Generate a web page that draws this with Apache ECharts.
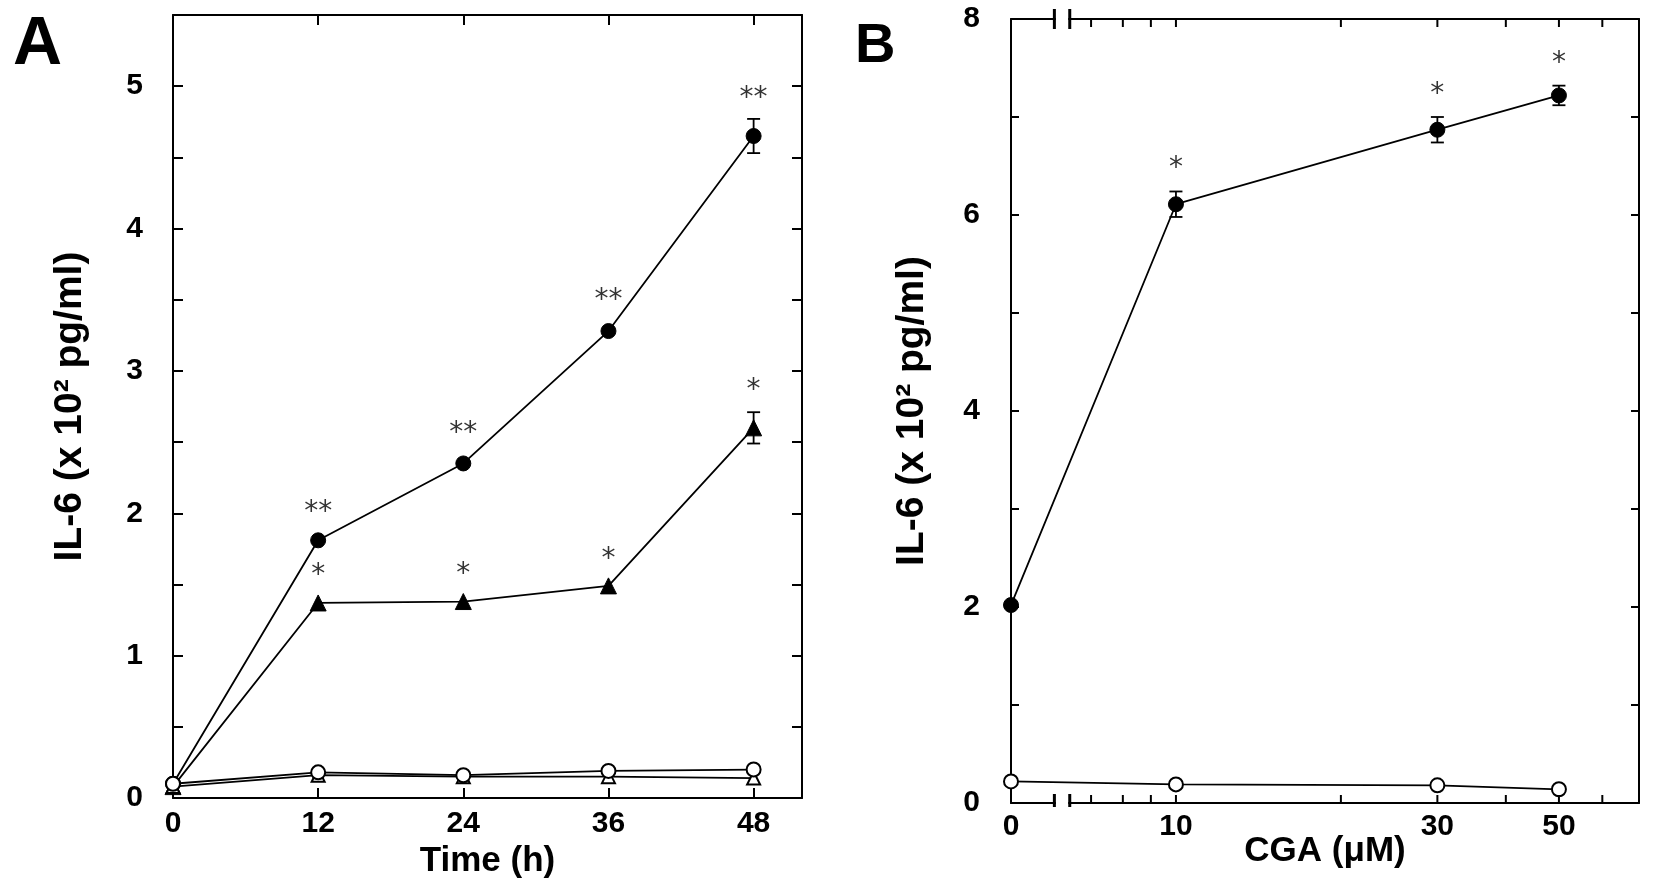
<!DOCTYPE html>
<html><head><meta charset="utf-8">
<script src="https://cdn.jsdelivr.net/npm/echarts@6/dist/echarts.min.js"></script>
<style>html,body{margin:0;padding:0;background:#fff}#c{width:1654px;height:890px}</style>
</head><body><div id="c"></div>
<script>
// ---------- Panel A data ----------
const timeH = [0, 12, 24, 36, 48];
const aFilledCircle    = [0.10, 1.81, 2.35, 3.28, 4.65];
const aFilledCircleErr = [0, 0, 0, 0, 0.12];
const aFilledTriangle    = [0.08, 1.37, 1.38, 1.49, 2.60];
const aFilledTriangleErr = [0, 0, 0, 0, 0.11];
const aOpenCircle   = [0.10, 0.18, 0.16, 0.19, 0.20];
const aOpenTriangle = [0.08, 0.16, 0.15, 0.15, 0.14];
const aStarTimes = [12, 24, 36, 48];
const aStarCircleY = [2.05, 2.61, 3.54, 4.96];
const aStarCircleText = ['**', '**', '**', '**'];
const aStarTriangleY = [1.61, 1.62, 1.72, 2.91];
const aStarTriangleText = ['*', '*', '*', '*'];
const aXLabels = [0, 12, 24, 36, 48];

// ---------- Panel B data ----------
const cgaUM = [0, 10, 30, 50];
const bFilledCircle    = [2.02, 6.11, 6.87, 7.22];
const bFilledCircleErr = [0, 0.13, 0.13, 0.10];
const bOpenCircle = [0.22, 0.19, 0.18, 0.14];
const bStarConc = [10, 30, 50];
const bStarY = [6.54, 7.30, 7.62];
const bStarText = ['*', '*', '*'];
const bTickValues = [7, 8, 9, 10, 20, 30, 40, 50, 60];
const bLabelConc = [0, 10, 30, 50];
const B_ZERO_AT = 5;          // the 0 µM dose sits at 5 on the broken log axis
const bBreakAt = [6.0, 6.4];  // axis break marks

const FONT = '"Liberation Sans", Arial, Helvetica, sans-serif';
const bx = c => (c === 0 ? B_ZERO_AT : c);

const chart = echarts.init(document.getElementById('c'), null, {renderer: 'canvas'});

function lineSeries(xi, yi, xs, ys, symbol, size, filled) {
  return {
    type: 'line', xAxisIndex: xi, yAxisIndex: yi,
    data: xs.map((x, i) => [x, ys[i]]),
    symbol: symbol, symbolSize: size, showSymbol: true, clip: false,
    lineStyle: {color: '#000', width: 1.8},
    itemStyle: filled ? {color: '#000', borderColor: '#000', borderWidth: 1}
                      : {color: '#fff', borderColor: '#000', borderWidth: 2},
    emphasis: {disabled: true}, silent: true, animation: false, z: filled ? 3 : 4
  };
}
function errSeries(xi, yi, xs, ys, es) {
  return {
    type: 'custom', xAxisIndex: xi, yAxisIndex: yi, silent: true, animation: false, z: 2,
    data: xs.map((x, i) => [x, ys[i], es[i]]),
    renderItem: function (params, api) {
      const x = api.value(0), y = api.value(1), e = api.value(2);
      if (!e) return null;
      const t = api.coord([x, y + e]), b = api.coord([x, y - e]);
      const w = 6.5, st = {stroke: '#000', lineWidth: 1.8};
      return {type: 'group', children: [
        {type: 'line', shape: {x1: t[0], y1: t[1], x2: b[0], y2: b[1]}, style: st},
        {type: 'line', shape: {x1: t[0] - w, y1: t[1], x2: t[0] + w, y2: t[1]}, style: st},
        {type: 'line', shape: {x1: b[0] - w, y1: b[1], x2: b[0] + w, y2: b[1]}, style: st}
      ]};
    }
  };
}
function starSeries(xi, yi, xs, ys, texts) {
  return {
    type: 'scatter', xAxisIndex: xi, yAxisIndex: yi, silent: true, animation: false,
    symbolSize: 1, itemStyle: {color: 'rgba(0,0,0,0)'},
    data: xs.map((x, i) => ({name: texts[i], value: [x, ys[i]]})),
    label: {show: true, position: 'inside', formatter: '{b}', offset: [0, 7],
            fontSize: 28, fontFamily: '"DejaVu Sans", sans-serif', color: '#000'},
    z: 5
  };
}

const axisLine = {show: true, onZero: false, lineStyle: {color: '#000', width: 2}};
const labelStyle = {color: '#000', fontSize: 30, fontWeight: 'bold', fontFamily: FONT};

const option = {
  backgroundColor: '#fff',
  animation: false,
  title: [
    {text: 'A', left: 13, top: 11, padding: 0, textStyle: {fontSize: 68, fontWeight: 'bold', fontFamily: FONT, color: '#000'}},
    {text: 'B', left: 855, top: 19, padding: 0, textStyle: {fontSize: 56, fontWeight: 'bold', fontFamily: FONT, color: '#000'}}
  ],
  grid: [
    {left: 173, top: 15, width: 629, height: 783},
    {left: 1011, top: 19, width: 628, height: 784}
  ],
  xAxis: [
    {gridIndex: 0, type: 'value', position: 'bottom', min: 0, max: 52, interval: 12,
     axisLine: axisLine, splitLine: {show: false},
     axisTick: {show: true, inside: true, length: 10, lineStyle: {color: '#000', width: 2}},
     axisLabel: Object.assign({margin: 11, formatter: v => aXLabels.includes(v) ? String(v) : ''}, labelStyle),
     name: 'Time (h)', nameLocation: 'middle', nameGap: 44,
     nameTextStyle: {fontSize: 35, fontWeight: 'bold', fontFamily: FONT, color: '#000'}},
    {gridIndex: 0, type: 'value', position: 'top', min: 0, max: 52, interval: 12,
     axisLine: axisLine, splitLine: {show: false},
     axisTick: {show: true, inside: true, length: 10, lineStyle: {color: '#000', width: 2}},
     axisLabel: {show: false}},
    {gridIndex: 1, type: 'log', logBase: 10, position: 'bottom', min: B_ZERO_AT, max: 70,
     axisLine: axisLine, splitLine: {show: false}, minorSplitLine: {show: false},
     axisTick: {show: false}, axisLabel: {show: false},
     name: 'CGA (μM)', nameLocation: 'middle', nameGap: 31,
     nameTextStyle: {fontSize: 35, fontWeight: 'bold', fontFamily: FONT, color: '#000'}},
    {gridIndex: 1, type: 'log', logBase: 10, position: 'top', min: B_ZERO_AT, max: 70,
     axisLine: axisLine, splitLine: {show: false}, minorSplitLine: {show: false},
     axisTick: {show: false}, axisLabel: {show: false}}
  ],
  yAxis: [
    {gridIndex: 0, type: 'value', position: 'left', min: 0, max: 5.5, interval: 0.5,
     axisLine: axisLine, splitLine: {show: false},
     axisTick: {show: true, inside: true, length: 10, lineStyle: {color: '#000', width: 2}},
     axisLabel: Object.assign({margin: 30, formatter: v => Number.isInteger(v) ? String(v) : ''}, labelStyle),
     name: 'IL-6 (x 10² pg/ml)', nameLocation: 'middle', nameGap: 83,
     nameTextStyle: {fontSize: 39, fontWeight: 'bold', fontFamily: FONT, color: '#000'}},
    {gridIndex: 0, type: 'value', position: 'right', min: 0, max: 5.5, interval: 0.5,
     axisLine: axisLine, splitLine: {show: false},
     axisTick: {show: true, inside: true, length: 10, lineStyle: {color: '#000', width: 2}},
     axisLabel: {show: false}},
    {gridIndex: 1, type: 'value', position: 'left', min: 0, max: 8, interval: 1,
     axisLine: axisLine, splitLine: {show: false},
     axisTick: {show: true, inside: true, length: 8, lineStyle: {color: '#000', width: 2}},
     axisLabel: Object.assign({margin: 31, formatter: v => (v % 2 === 0 ? String(v) : '')}, labelStyle),
     name: 'IL-6 (x 10² pg/ml)', nameLocation: 'middle', nameGap: 79,
     nameTextStyle: {fontSize: 39, fontWeight: 'bold', fontFamily: FONT, color: '#000'}},
    {gridIndex: 1, type: 'value', position: 'right', min: 0, max: 8, interval: 1,
     axisLine: axisLine, splitLine: {show: false},
     axisTick: {show: true, inside: true, length: 8, lineStyle: {color: '#000', width: 2}},
     axisLabel: {show: false}}
  ],
  series: [
    // Panel A
    errSeries(0, 0, timeH, aFilledCircle, aFilledCircleErr),
    errSeries(0, 0, timeH, aFilledTriangle, aFilledTriangleErr),
    lineSeries(0, 0, timeH, aOpenTriangle, 'triangle', 13, false),
    lineSeries(0, 0, timeH, aOpenCircle, 'circle', 14, false),
    lineSeries(0, 0, timeH, aFilledTriangle, 'triangle', 16, true),
    lineSeries(0, 0, timeH, aFilledCircle, 'circle', 15, true),
    starSeries(0, 0, aStarTimes, aStarCircleY, aStarCircleText),
    starSeries(0, 0, aStarTimes, aStarTriangleY, aStarTriangleText),
    // Panel B
    errSeries(2, 2, cgaUM.map(bx), bFilledCircle, bFilledCircleErr),
    lineSeries(2, 2, cgaUM.map(bx), bOpenCircle, 'circle', 14, false),
    lineSeries(2, 2, cgaUM.map(bx), bFilledCircle, 'circle', 15, true),
    starSeries(2, 2, bStarConc, bStarY, bStarText),
    // Panel B log-axis ticks (bottom and top, inside)
    {type: 'custom', xAxisIndex: 2, yAxisIndex: 2, silent: true, animation: false, z: 6,
     data: bTickValues.map(v => [v, 0]),
     renderItem: function (params, api) {
       const v = api.value(0);
       const b = api.coord([v, 0]), t = api.coord([v, 8]);
       const st = {stroke: '#000', lineWidth: 2};
       return {type: 'group', children: [
         {type: 'line', shape: {x1: b[0], y1: b[1], x2: b[0], y2: b[1] - 8}, style: st},
         {type: 'line', shape: {x1: t[0], y1: t[1], x2: t[0], y2: t[1] + 8}, style: st}
       ]};
     }},
    // Panel B x tick labels
    {type: 'custom', xAxisIndex: 2, yAxisIndex: 2, silent: true, animation: false, z: 6,
     data: bLabelConc.map(c => [bx(c), 0]),
     renderItem: function (params, api) {
       const p = api.coord([api.value(0), 0]);
       return {type: 'text', x: p[0], y: p[1] + 9,
               style: {text: String(bLabelConc[params.dataIndex]), fill: '#000', fontSize: 30,
                       fontWeight: 'bold', fontFamily: FONT, align: 'center', verticalAlign: 'top'}};
     }},
    // Panel B axis break marks
    {type: 'custom', xAxisIndex: 2, yAxisIndex: 2, silent: true, animation: false, z: 7,
     data: bBreakAt.map(v => [v, 0]),
     renderItem: function (params, api) {
       const v = api.value(0);
       const b = api.coord([v, 0]), t = api.coord([v, 8]);
       const st = {stroke: '#000', lineWidth: 3};
       const children = [];
       if (params.dataIndex === 0) {
         const b2 = api.coord([bBreakAt[1], 0]), t2 = api.coord([bBreakAt[1], 8]);
         children.push({type: 'rect', shape: {x: b[0] + 1.5, y: b[1] - 3, width: b2[0] - b[0] - 3, height: 6}, style: {fill: '#fff'}});
         children.push({type: 'rect', shape: {x: t[0] + 1.5, y: t2[1] - 3, width: t2[0] - t[0] - 3, height: 6}, style: {fill: '#fff'}});
       }
       children.push({type: 'line', shape: {x1: b[0], y1: b[1] - 9, x2: b[0], y2: b[1] + 4}, style: st});
       children.push({type: 'line', shape: {x1: t[0], y1: t[1] - 10, x2: t[0], y2: t[1] + 10}, style: st});
       return {type: 'group', children: children};
     }}
  ]
};
chart.setOption(option);
</script></body></html>
